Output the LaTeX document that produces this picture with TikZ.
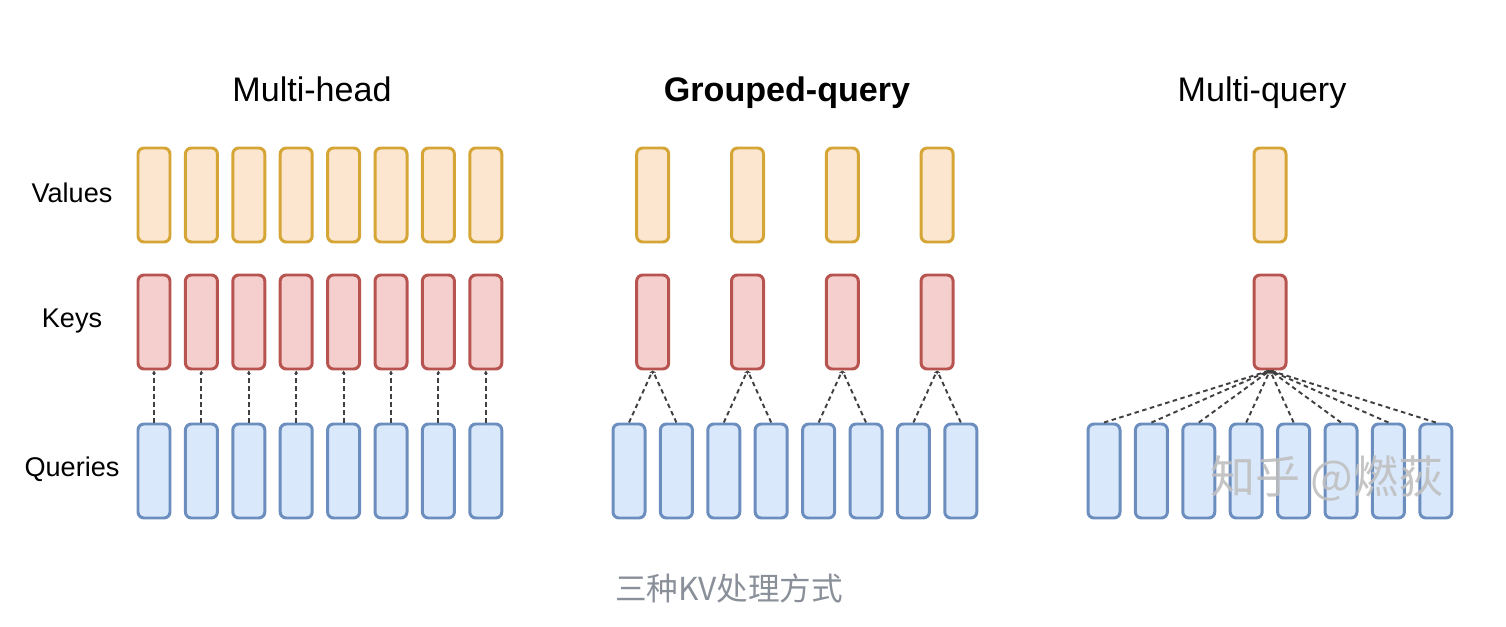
\documentclass[tikz,border=0pt]{standalone}
\usepackage{fontspec}
\setmainfont{Liberation Sans}
\newfontfamily\cjkfont{Noto Sans CJK SC}
\usetikzlibrary{arrows.meta, positioning}
\definecolor{valfill}{HTML}{FCE6CF}
\definecolor{valdraw}{HTML}{D5A536}
\definecolor{keyfill}{HTML}{F4CFCD}
\definecolor{keydraw}{HTML}{B85450}
\definecolor{qryfill}{HTML}{DAE8FC}
\definecolor{qrydraw}{HTML}{6C8EBF}
\definecolor{capgray}{HTML}{8A9099}

\begin{document}
\begin{tikzpicture}[x=0.1mm, y=-0.1mm,
    head/.style={rectangle, rounded corners=0.6mm, line width=0.85pt,
                 minimum width=3.2mm, minimum height=9.4mm, inner sep=0pt},
    valbox/.style={head, draw=valdraw, fill=valfill},
    keybox/.style={head, draw=keydraw, fill=keyfill},
    qrybox/.style={head, draw=qrydraw, fill=qryfill},
    link/.style={dash pattern=on 0.45mm off 0.35mm, line width=0.55pt, draw=black!75,
                 -{Stealth[length=0.35mm, width=0.4mm]}},
    title/.style={anchor=base, font=\fontsize{9.7}{12}\selectfont},
    rowlabel/.style={font=\fontsize{7.7}{10}\selectfont}]

  \useasboundingbox (0,0) rectangle (1506,626);

  % row labels
  \node[rowlabel] (lblv) at (72,193) {Values};
  \node[rowlabel] (lblk) at (72,321) {Keys};
  \node[rowlabel] (lblq) at (72,469) {Queries};

  % titles
  \node[title] (tmh) at (312,102) {Multi-head};
  \node[title, font=\fontsize{9.7}{12}\selectfont\bfseries] (tgq) at (787,102) {Grouped-query};
  \node[title] (tmq) at (1262,102) {Multi-query};

  % multi-head
  \foreach \i [evaluate=\i as \xx using {154+47.4*(\i-1)}] in {1,...,8} {
    \node[valbox] (mhv\i) at (\xx,195) {};
    \node[keybox] (mhk\i) at (\xx,322) {};
    \node[qrybox] (mhq\i) at (\xx,471) {};
    \draw[link] (mhq\i.north) -- (mhk\i.south);
  }

  % grouped-query
  \foreach \i [evaluate=\i as \xx using {629+47.4*(\i-1)}] in {1,...,8}
    \node[qrybox] (gqq\i) at (\xx,471) {};
  \foreach \j [evaluate=\j as \xx using {652.7+94.8*(\j-1)}] in {1,...,4} {
    \node[valbox] (gqv\j) at (\xx,195) {};
    \node[keybox] (gqk\j) at (\xx,322) {};
    \pgfmathtruncatemacro\qa{2*\j-1}
    \pgfmathtruncatemacro\qb{2*\j}
    \draw[link] (gqq\qa.north) -- (gqk\j.south);
    \draw[link] (gqq\qb.north) -- (gqk\j.south);
  }

  % multi-query
  \node[valbox] (mqv) at (1270,195) {};
  \node[keybox] (mqk) at (1270,322) {};
  \foreach \i [evaluate=\i as \xx using {1104+47.4*(\i-1)}] in {1,...,8} {
    \node[qrybox] (mqq\i) at (\xx,471) {};
    \draw[link] (mqq\i.north) -- (mqk.south);
  }

  % watermark and caption
  \node[font=\cjkfont\fontsize{12.8}{14}\selectfont, text=black!25, opacity=0.9] (mark) at (1327,478) {知乎 @燃荻};
  \node[font=\cjkfont\fontsize{9}{11}\selectfont, text=capgray] (cap) at (729,588) {三种KV处理方式};
\end{tikzpicture}
\end{document}
